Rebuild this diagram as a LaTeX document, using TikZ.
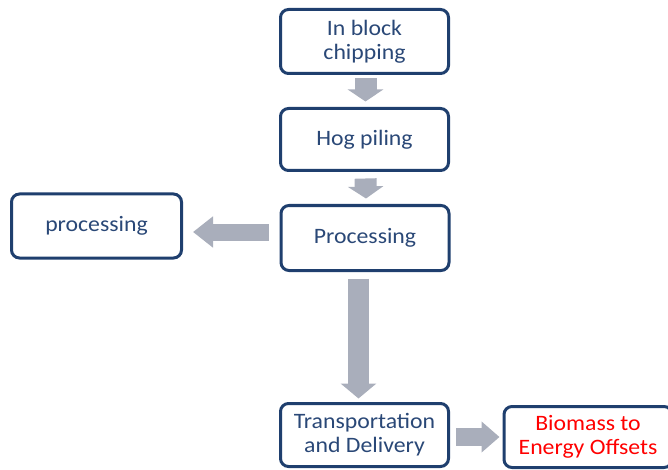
\documentclass[tikz,border=0pt]{standalone}
\usepackage{fontspec}
\setmainfont{Carlito}[FakeStretch=1.08]
\usetikzlibrary{arrows.meta,calc}
\definecolor{boxblue}{HTML}{1F3F6E}
\definecolor{txtblue}{HTML}{2A4877}
\definecolor{arrgray}{HTML}{A9AEBB}
\tikzset{
  stepbox/.style={draw=boxblue, line width=3pt, rounded corners=8pt, fill=white,
    text=txtblue, align=center, inner sep=0pt,
    font=\fontsize{22}{24}\selectfont}
}
\begin{document}
\begin{tikzpicture}[x=1pt,y=-1pt]
\clip (0,0) rectangle (668,470);
\useasboundingbox (0,0) rectangle (668,470);
\node[stepbox, minimum width=168pt, minimum height=64pt] (chip) at (364.5,41.5) {In block\\chipping};
\node[stepbox, minimum width=168pt, minimum height=62pt] (hog) at (364.5,139.5) {Hog piling};
\node[stepbox, minimum width=168pt, minimum height=65pt] (proc) at (365,238) {Processing};
\node[stepbox, minimum width=170pt, minimum height=64pt] (left) at (96.5,226) {processing};
\node[stepbox, minimum width=168pt, minimum height=63pt] (trans) at (364.5,435) {Transportation\\and Delivery};
\node[stepbox, minimum width=168pt, minimum height=61pt, text=red] (bio) at (588,437) {Biomass to\\Energy Offsets};
% block arrows
\draw[arrgray, line width=22pt, -{Triangle[width=35pt,length=12pt]}]
  ($(chip.south)+(1,3.5)$) -- ($(hog.north)+(1,-5.5)$);
\draw[arrgray, line width=22pt, -{Triangle[width=35pt,length=12pt]}]
  ($(hog.south)+(1,6.5)$) -- ($(proc.north)+(1,-5.5)$);
\draw[arrgray, line width=17pt, -{Triangle[width=30pt,length=20pt]}]
  ($(proc.west)+(-11,-6)$) -- ($(left.east)+(10,6)$);
\draw[arrgray, line width=21pt, -{Triangle[width=35pt,length=15pt]}]
  ($(proc.south)+(-6.5,6.5)$) -- ($(trans.north)+(-6,-3.5)$);
\draw[arrgray, line width=18pt, -{Triangle[width=30pt,length=18pt]}]
  ($(trans.east)+(6,2)$) -- ($(bio.west)+(-3,0)$);
\end{tikzpicture}
\end{document}
